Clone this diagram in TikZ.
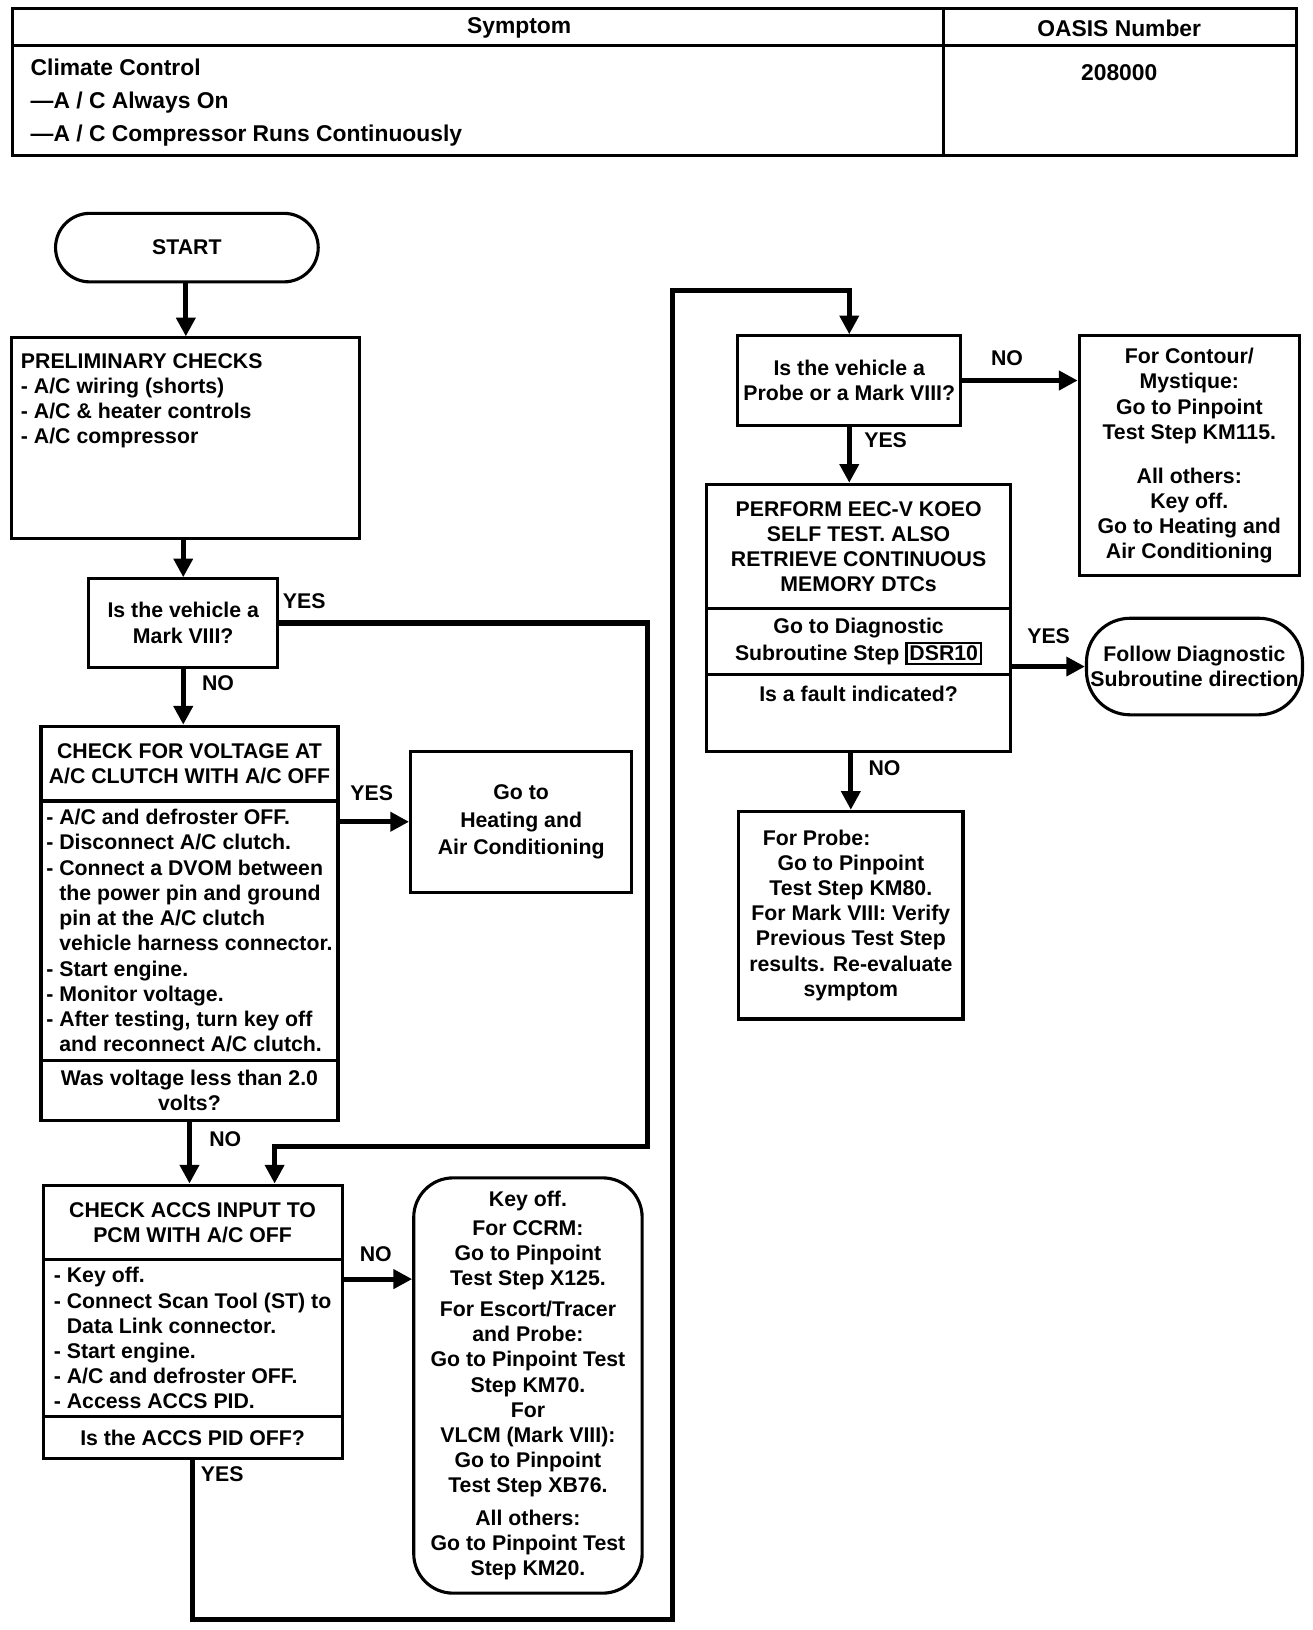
\documentclass[tikz,border=0pt]{standalone}
\usepackage{fontspec}
\setmainfont{Liberation Sans}
\usetikzlibrary{arrows.meta}
\newcommand\flowfont{\fontsize{20.5}{24.3}\selectfont\bfseries}
\newcommand\tabfont{\fontsize{22}{32}\selectfont\bfseries}
\newcommand\dsrbox[1]{{\fboxsep=1.5pt\fboxrule=2.5pt\fbox{#1}}}

\tikzset{
  box/.style={draw, line width=3pt, inner sep=3pt, font=\flowfont, align=center, anchor=north west},
  term/.style={box, rounded corners=33pt},
  lbl/.style={font=\flowfont, inner sep=0pt},
  flow/.style={line width=5pt, -{Triangle[length=18pt,width=18pt]}},
  tbl/.style={line width=3pt},
}

\begin{document}
\begin{tikzpicture}[x=1pt, y=-1pt]
\useasboundingbox (0,0) rectangle (1264,1570);

% Symptom table
\draw[tbl] (12,8) rectangle (1249,150);
\draw[tbl] (12,44) -- (1249,44);
\draw[tbl] (909,8) -- (909,150);
\node[font=\tabfont] (symhead) at (500,27) {Symptom};
\node[font=\tabfont] (oasishead) at (1078,27) {OASIS Number};
\node[font=\tabfont, anchor=west, align=left] (symtext) at (26,99) {Climate Control\\---A / C Always On\\---A / C Compressor Runs Continuously};
\node[font=\tabfont] (oasisno) at (1078,70) {208000};

% Left column
\node[term, minimum width=253pt, minimum height=66pt] (start) at (52,204) {START};
\node[box, minimum width=335pt, minimum height=193pt] (prelim) at (10,324) {};
\node[lbl, anchor=north west, align=left] (prelimtxt) at (20,340) {PRELIMINARY CHECKS\\- A/C wiring (shorts)\\- A/C \& heater controls\\- A/C compressor};
\node[box, minimum width=182pt, minimum height=85pt] (mark) at (84,556) {Is the vehicle a\\Mark VIII?};

\node[box, minimum width=286pt, minimum height=72pt] (voltT) at (38,698) {CHECK FOR VOLTAGE AT\\A/C CLUTCH WITH A/C OFF};
\node[box, minimum width=286pt, minimum height=250pt, align=left] (voltL) at (38,770) {- A/C and defroster OFF.\\- Disconnect A/C clutch.\\- Connect a DVOM between\\\phantom{- }the power pin and ground\\\phantom{- }pin at the A/C clutch\\\phantom{- }vehicle harness connector.\\- Start engine.\\- Monitor voltage.\\- After testing, turn key off\\\phantom{- }and reconnect A/C clutch.};
\node[box, minimum width=286pt, minimum height=58pt] (voltQ) at (38,1020) {Was voltage less than 2.0\\volts?};
\node[box, minimum width=213pt, minimum height=136pt] (heat) at (394,722) {Go to\\[3pt]Heating and\\[2pt]Air Conditioning};

\node[box, minimum width=288pt, minimum height=72pt] (accsT) at (40,1140) {CHECK ACCS INPUT TO\\PCM WITH A/C OFF};
\node[box, minimum width=288pt, minimum height=151pt, align=left] (accsL) at (40,1212) {- Key off.\\- Connect Scan Tool (ST) to\\\phantom{- }Data Link connector.\\- Start engine.\\- A/C and defroster OFF.\\- Access ACCS PID.};
\node[box, minimum width=288pt, minimum height=40pt] (accsQ) at (40,1363) {Is the ACCS PID OFF?};
\node[box, rounded corners=38pt, minimum width=220pt, minimum height=400pt] (keyoff) at (397,1133) {Key off.\\[4pt]For CCRM:\\Go to Pinpoint\\Test Step X125.\\[5pt]For Escort/Tracer\\and Probe:\\Go to Pinpoint Test\\Step KM70.\\For\\VLCM (Mark VIII):\\Go to Pinpoint\\Test Step XB76.\\[7pt]All others:\\Go to Pinpoint Test\\Step KM20.};

% Right column
\node[box, minimum width=215pt, minimum height=86pt] (probe) at (709,322) {Is the vehicle a\\Probe or a Mark VIII?};
\node[box, minimum width=212pt, minimum height=231pt] (contour) at (1038,322) {For Contour/\\Mystique:\\Go to Pinpoint\\Test Step KM115.\\[18pt]All others:\\Key off.\\Go to Heating and\\Air Conditioning};
\node[box, minimum width=293pt, minimum height=120pt] (eecT) at (679,465) {PERFORM EEC-V KOEO\\SELF TEST. ALSO\\RETRIEVE CONTINUOUS\\MEMORY DTCs};
\node[box, minimum width=293pt, minimum height=63pt] (eecM) at (679,585) {Go to Diagnostic\\[2pt]Subroutine Step \dsrbox{DSR10}};
\node[box, minimum width=293pt, minimum height=74pt] (eecQ) at (679,648) {};
\node[lbl] (eecQtxt) at ([yshift=-20pt]eecQ.north) {Is a fault indicated?};
\node[term, rounded corners=42pt, minimum width=208pt, minimum height=93pt] (follow) at (1045,594) {Follow Diagnostic\\Subroutine direction};
\node[box, minimum width=216pt, minimum height=200pt] (km80) at (710,780) {For Probe:\hspace*{66pt}\\Go to Pinpoint\\Test Step KM80.\\For Mark VIII: Verify\\Previous Test Step\\results. Re-evaluate\\symptom};

% Connectors
\coordinate (accsout) at ([yshift=-20pt]accsL.north east);
\draw[flow] (prelim.north |- start.south) -- (prelim.north);
\draw[flow] (mark.north |- prelim.south) -- (mark.north);
\draw[flow] (mark.south) -- (mark.south |- voltT.north);
\draw[flow] (heat.west -| voltL.east) -- (heat.west);
\draw[flow] (voltQ.south) -- (voltQ.south |- accsT.north);
\draw[flow] (mark.east) -| (624,1104) -| ([xshift=79pt]accsT.north);
\draw[flow] (accsout) -- (accsout -| keyoff.west);
\draw[flow] (accsQ.south) |- (648,1560) -- (648,280) -| (probe.north);
\draw[flow] (probe.east) -- (probe.east -| contour.west);
\draw[flow] (probe.south) -- (probe.south |- eecT.north);
\draw[flow] (follow.west -| eecM.east) -- (follow.west);
\draw[flow] (km80.north |- eecQ.south) -- (km80.north);

% Branch labels
\node[lbl] (yes1) at (293,579) {YES};
\node[lbl] (no1) at (210,658) {NO};
\node[lbl] (yes2) at (358,764) {YES};
\node[lbl] (no2) at (217,1097) {NO};
\node[lbl] (no3) at (362,1208) {NO};
\node[lbl] (yes3) at (214,1420) {YES};
\node[lbl] (no4) at (970,345) {NO};
\node[lbl] (yes4) at (853,424) {YES};
\node[lbl] (yes5) at (1010,613) {YES};
\node[lbl] (no5) at (852,740) {NO};
\end{tikzpicture}
\end{document}
